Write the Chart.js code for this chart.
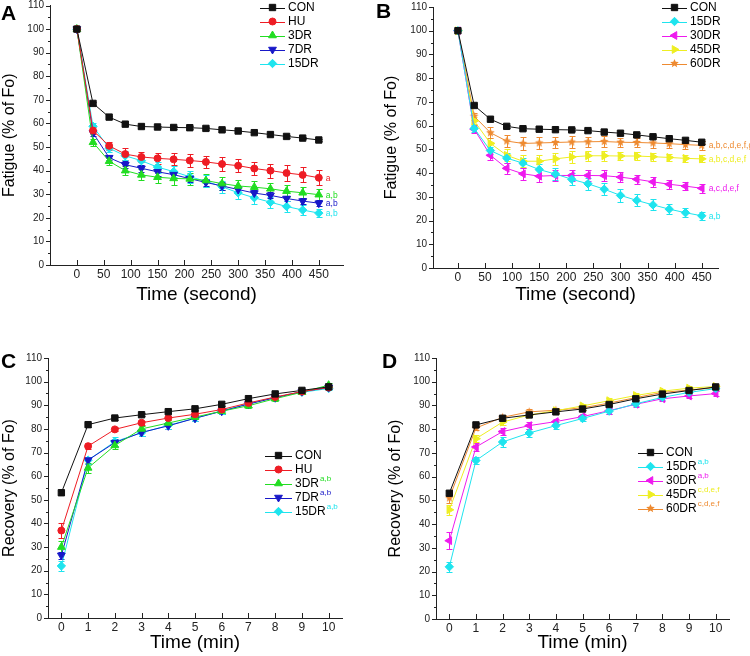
<!DOCTYPE html>
<html>
<head>
<meta charset="utf-8">
<script src="https://cdn.jsdelivr.net/npm/chart.js@4.4.0/dist/chart.umd.min.js"></script>
<style>
  html, body { margin: 0; padding: 0; background: #fff; }
  #wrap { position: relative; width: 750px; height: 656px; overflow: hidden; }
  .p { position: absolute; }
  .lbl { position: absolute; font: bold 21px "Liberation Sans", Arial, sans-serif; line-height: 21px; color: #000; }
</style>
</head>
<body>
<div id="wrap">
  <canvas id="cA" class="p" width="375" height="320" style="left:0;top:0"></canvas>
  <canvas id="cB" class="p" width="375" height="320" style="left:375px;top:0"></canvas>
  <canvas id="cC" class="p" width="375" height="336" style="left:0;top:320px"></canvas>
  <canvas id="cD" class="p" width="375" height="336" style="left:375px;top:320px"></canvas>
  <div class="lbl" style="left:1px;top:2px">A</div>
  <div class="lbl" style="left:376px;top:0px">B</div>
  <div class="lbl" style="left:1px;top:350px">C</div>
  <div class="lbl" style="left:382px;top:350px">D</div>
</div>
<script>
// time points
const tSec = [0, 30, 60, 90, 120, 150, 180, 210, 240, 270, 300, 330, 360, 390, 420, 450];
const tMin = [0, 1, 2, 3, 4, 5, 6, 7, 8, 9, 10];
const secTicks = [0, 50, 100, 150, 200, 250, 300, 350, 400, 450];
const minTicks = [0, 1, 2, 3, 4, 5, 6, 7, 8, 9, 10];

// fatigue (% of Fo)
const fatCON  = [100, 68.5, 62.7, 59.7, 58.7, 58.5, 58.3, 58.2, 57.9, 57.3, 56.8, 56.1, 55.3, 54.5, 53.8, 53.0];
const fatHU   = [100, 57, 50.5, 47, 45.8, 45.2, 44.8, 44.3, 43.7, 42.8, 42.1, 40.9, 40.0, 39.0, 38.2, 37.0];
const fat3DR  = [100, 52, 44, 40, 38.2, 37.2, 36.7, 36.5, 35.8, 34.5, 33.5, 33.0, 32.3, 31.3, 30.6, 29.8];
const fat7DR  = [100, 56, 45.5, 42.5, 41, 39.5, 38.3, 36.6, 35, 33.5, 32, 30.5, 29.5, 28.2, 27.1, 26.2];
const fat15DR = [100, 58.8, 49.5, 46.3, 44.2, 41.5, 39.6, 37.4, 35.5, 33.2, 30.6, 28.5, 26.6, 24.8, 23.3, 22.0];
const fat30DR = [100, 58.5, 47.5, 42, 39.7, 38.7, 39, 39, 39, 38.9, 38.3, 37.4, 36.3, 35.3, 34.5, 33.6];
const fat45DR = [100, 62, 52.5, 47.5, 45, 45, 46, 46.8, 47.3, 47.3, 47.2, 47.2, 46.9, 46.6, 46.2, 46.0];
const fat60DR = [100, 64, 57, 53.5, 52.5, 52.7, 52.9, 53.1, 53.2, 53.3, 53.0, 52.9, 52.7, 52.4, 52.0, 51.7];

const fatErrCON  = [0, 0.6, 0.6, 0.6, 0.6, 0.6, 0.6, 0.6, 0.6, 0.6, 0.6, 0.6, 0.6, 0.6, 0.6, 0.6];
const fatErrHU   = [0, 1.5, 1.8, 2.5, 2.3, 2.3, 2.6, 2.6, 2.6, 2.8, 2.8, 2.8, 3.0, 3.2, 3.2, 3.3];
const fatErr3DR  = [0, 1.5, 1.5, 2, 2.3, 2.5, 2.8, 2.6, 2.6, 2.6, 2.5, 2.4, 2.4, 2.4, 2.4, 2.4];
const fatErr7DR  = [0, 1.2, 1.2, 1.5, 1.5, 1.6, 1.6, 1.6, 1.5, 1.5, 1.3, 1.3, 1.3, 1.2, 1.2, 1.2];
const fatErr15DR = [0, 1.5, 1.5, 2, 2.2, 2.3, 2.5, 2.5, 2.5, 2.6, 2.6, 2.5, 2.3, 2.2, 2.0, 1.8];
const fatErr30DR = [0, 1.5, 1.8, 2.3, 2.6, 2.4, 2.4, 2.4, 2.2, 2.2, 2.0, 2.0, 2.0, 1.8, 1.8, 1.8];
const fatErr45DR = [0, 1.5, 2.2, 2.6, 2.6, 2.7, 2.6, 2.4, 2.2, 2.0, 1.8, 1.6, 1.6, 1.6, 1.6, 1.5];
const fatErr60DR = [0, 1.5, 2.4, 2.6, 2.6, 2.6, 2.5, 2.4, 2.2, 2.2, 2.0, 2.0, 2.0, 1.8, 1.8, 1.8];

// recovery (% of Fo)
const recCON  = [53, 81.8, 84.6, 86, 87.3, 88.5, 90.4, 92.8, 94.8, 96.3, 97.8];
const recHU   = [37, 72.7, 79.8, 82.6, 84.6, 86.2, 88.2, 91, 93.5, 95.8, 97.5];
const rec3DR  = [30, 63.5, 73, 80, 82.5, 85, 87.5, 89.8, 92.8, 95.5, 98.5];
const rec7DR  = [26.5, 66.8, 74.2, 78.5, 81.3, 84.5, 87.5, 90.5, 93.2, 95.8, 97.5];
const rec15DR = [22, 66.8, 74.6, 78.4, 81.5, 84.5, 87.6, 90.7, 93.4, 95.5, 97.1];
const rec30DR = [33, 72.5, 79, 81.5, 83.2, 85.3, 87.8, 90.5, 92.8, 94, 95];
const rec45DR = [46, 76, 83, 86, 87.8, 89.8, 92, 94.2, 96, 97.3, 98];
const rec60DR = [51, 80.5, 85, 87.3, 88, 89, 91, 93.3, 95.5, 96.5, 97.5];

const recErrCON  = [0.8, 0.8, 0.8, 0.6, 0.6, 0.6, 0.6, 0.6, 0.6, 0.6, 0.6];
const recErrHU   = [3.2, 1.2, 0.8, 0.8, 0.8, 0.8, 0.8, 0.8, 0.8, 0.8, 0.8];
const recErr3DR  = [2.5, 2.0, 1.5, 1.2, 1.2, 1.0, 1.0, 1.0, 1.0, 0.8, 0.8];
const recErr7DR  = [1.5, 1.5, 1.5, 1.5, 1.5, 1.2, 1.2, 1.0, 1.0, 0.8, 0.8];
const recErr15DR = [2.0, 1.5, 2.0, 1.5, 1.5, 1.2, 1.2, 1.0, 1.0, 0.8, 0.8];
const recErr30DR = [3.5, 1.5, 1.5, 1.5, 1.2, 1.2, 1.2, 1.0, 1.0, 1.0, 1.0];
const recErr45DR = [2.0, 1.5, 1.2, 1.0, 1.0, 1.0, 1.0, 1.0, 0.8, 0.8, 0.8];
const recErr60DR = [2.0, 1.0, 1.0, 1.0, 1.0, 1.0, 1.0, 0.8, 0.8, 0.8, 0.8];

const colors = {
  CON: '#111111', HU: '#ee1c24', D3: '#22dd22', D7: '#1818c8',
  D15: '#1ee4ee', D30: '#ee1aee', D45: '#eeee22', D60: '#ee8a30'
};

Chart.defaults.font.family = '"Liberation Sans", Arial, sans-serif';
Chart.defaults.color = '#222';

function starImg(color, r) {
  const c = document.createElement('canvas');
  const s = Math.ceil(r * 2) + 2;
  c.width = c.height = s;
  const g = c.getContext('2d');
  g.fillStyle = color;
  g.beginPath();
  for (let k = 0; k < 10; k++) {
    const rr = k % 2 ? r * 0.45 : r;
    const a = -Math.PI / 2 + k * Math.PI / 5;
    g.lineTo(s / 2 + rr * Math.cos(a), s / 2 + rr * Math.sin(a));
  }
  g.closePath();
  g.fill();
  return c;
}

function series(label, xs, ys, err, color, style, radius, extra) {
  return Object.assign({
    label: label,
    data: xs.map((v, i) => ({ x: v, y: ys[i] })),
    err: err,
    borderColor: color,
    backgroundColor: color,
    borderWidth: 1,
    pointStyle: style,
    pointRadius: radius,
    pointHoverRadius: radius,
    pointBorderWidth: 1,
    pointRotation: 0,
    fill: false,
    tension: 0
  }, extra || {});
}

// outward y ticks (with minor ones), inward x ticks
const tickMarks = {
  id: 'tickMarks',
  afterDraw(chart) {
    const { ctx, scales: { x, y }, chartArea: a } = chart;
    ctx.save();
    ctx.strokeStyle = '#222';
    ctx.lineWidth = 1;
    ctx.beginPath();
    for (let v = 0; v <= 110; v += 5) {
      const py = Math.round(y.getPixelForValue(v)) + 0.5;
      const len = v % 10 === 0 ? 4 : 2;
      ctx.moveTo(a.left - len, py);
      ctx.lineTo(a.left, py);
    }
    x.ticks.forEach(t => {
      const px = Math.round(x.getPixelForValue(t.value)) + 0.5;
      ctx.moveTo(px, a.bottom);
      ctx.lineTo(px, a.bottom - 5);
    });
    ctx.stroke();
    ctx.restore();
  }
};

const errBars = {
  id: 'errBars',
  beforeDatasetsDraw(chart) {
    const { ctx, scales: { x, y } } = chart;
    chart.data.datasets.forEach(ds => {
      if (!ds.err) return;
      ctx.save();
      ctx.strokeStyle = ds.borderColor;
      ctx.lineWidth = 1;
      ctx.beginPath();
      ds.data.forEach((p, i) => {
        const e = ds.err[i];
        if (!e) return;
        const px = Math.round(x.getPixelForValue(p.x)) + 0.5;
        const y1 = Math.round(y.getPixelForValue(p.y + e)) + 0.5;
        const y2 = Math.round(y.getPixelForValue(p.y - e)) + 0.5;
        ctx.moveTo(px, y1); ctx.lineTo(px, y2);
        ctx.moveTo(px - 3, y1); ctx.lineTo(px + 3, y1);
        ctx.moveTo(px - 3, y2); ctx.lineTo(px + 3, y2);
      });
      ctx.stroke();
      ctx.restore();
    });
  }
};

// legend with line + marker, superscripts, and end-of-line notes
const panelText = {
  id: 'panelText',
  afterDraw(chart, args, o) {
    const { ctx, scales: { x, y } } = chart;
    const L = o.legend;
    ctx.save();
    chart.data.datasets.forEach((ds, i) => {
      const yy = L.y + i * L.dy;
      ctx.strokeStyle = ds.borderColor;
      ctx.fillStyle = ds.backgroundColor;
      ctx.lineWidth = 1;
      ctx.beginPath();
      ctx.moveTo(L.x, Math.round(yy) + 0.5);
      ctx.lineTo(L.x + L.len, Math.round(yy) + 0.5);
      ctx.stroke();
      Chart.helpers.drawPoint(ctx, {
        pointStyle: ds.pointStyle, rotation: ds.pointRotation, radius: ds.pointRadius, borderWidth: 1
      }, L.x + L.len / 2, yy);
      ctx.font = '12px "Liberation Sans", Arial, sans-serif';
      ctx.fillStyle = '#000';
      ctx.textBaseline = 'middle';
      ctx.textAlign = 'left';
      const tx = L.x + L.len + 3;
      ctx.fillText(ds.label, tx, yy + 0.5);
      if (ds.sup) {
        const w = ctx.measureText(ds.label).width;
        ctx.font = '8px "Liberation Sans", Arial, sans-serif';
        ctx.fillStyle = ds.borderColor;
        ctx.fillText(ds.sup, tx + w + 1, yy - 5);
      }
      if (ds.note) {
        const last = ds.data[ds.data.length - 1];
        ctx.font = '8.5px "Liberation Sans", Arial, sans-serif';
        ctx.fillStyle = ds.borderColor;
        ctx.fillText(ds.note, x.getPixelForValue(last.x) + 7, y.getPixelForValue(last.y) + 0.5);
      }
    });
    ctx.restore();
  }
};

function panel(id, p) {
  new Chart(document.getElementById(id), {
    type: 'line',
    data: { datasets: p.datasets },
    options: {
      responsive: false,
      animation: false,
      devicePixelRatio: 1,
      layout: { padding: p.pad },
      plugins: {
        legend: { display: false },
        tooltip: { enabled: false },
        panelText: { legend: p.legend }
      },
      scales: {
        x: {
          type: 'linear',
          min: p.xMin, max: p.xMax,
          afterBuildTicks: s => { s.ticks = p.xTicks.map(v => ({ value: v })); },
          afterFit: s => { s.height = p.xH; s.paddingLeft = 0; s.paddingRight = 0; },
          grid: { display: false, drawTicks: false },
          border: { display: true, color: '#222', width: 1 },
          ticks: { font: { size: 12 }, padding: 2, maxRotation: 0, autoSkip: false, color: '#222' },
          title: { display: true, text: p.xTitle, color: '#000', font: { size: 19 }, padding: { top: 0, bottom: p.xTitlePad } }
        },
        y: {
          min: 0, max: 110,
          afterFit: s => { s.width = p.yW; s.paddingTop = 0; s.paddingBottom = 0; },
          grid: { display: false, drawTicks: false },
          border: { display: true, color: '#222', width: 1 },
          ticks: { stepSize: 10, font: { size: 10 }, padding: 6, color: '#222' },
          title: { display: true, text: p.yTitle, color: '#000', font: { size: 16 }, padding: { top: p.yTitlePad, bottom: 0 } }
        }
      }
    },
    plugins: [errBars, tickMarks, panelText]
  });
}

const star = starImg(colors.D60, 4.5);

panel('cA', {
  xMin: -50, xMax: 495, xTicks: secTicks,
  pad: { left: 0, top: 4, right: 32, bottom: 0 }, yW: 50, xH: 55,
  xTitle: 'Time (second)', xTitlePad: 13.6, yTitle: 'Fatigue (% of Fo)', yTitlePad: 0,
  legend: { x: 260, y: 7.5, dy: 14, len: 25 },
  datasets: [
    series('CON', tSec, fatCON, fatErrCON, colors.CON, 'rect', 4.5),
    series('HU', tSec, fatHU, fatErrHU, colors.HU, 'circle', 3.5, { note: 'a' }),
    series('3DR', tSec, fat3DR, fatErr3DR, colors.D3, 'triangle', 4.5, { note: 'a,b' }),
    series('7DR', tSec, fat7DR, fatErr7DR, colors.D7, 'triangle', 4.5, { pointRotation: 180, note: 'a,b' }),
    series('15DR', tSec, fat15DR, fatErr15DR, colors.D15, 'rectRot', 4.2, { note: 'a,b' })
  ]
});

panel('cB', {
  xMin: -46, xMax: 480, xTicks: secTicks,
  pad: { left: 0, top: 7, right: 32, bottom: 0 }, yW: 58, xH: 52,
  xTitle: 'Time (second)', xTitlePad: 13.6, yTitle: 'Fatigue (% of Fo)', yTitlePad: 7,
  legend: { x: 287, y: 7.5, dy: 14, len: 25 },
  datasets: [
    series('CON', tSec, fatCON, fatErrCON, colors.CON, 'rect', 4.5),
    series('15DR', tSec, fat15DR, fatErr15DR, colors.D15, 'rectRot', 4.2, { note: 'a,b' }),
    series('30DR', tSec, fat30DR, fatErr30DR, colors.D30, 'triangle', 4.5, { pointRotation: 270, note: 'a,c,d,e,f' }),
    series('45DR', tSec, fat45DR, fatErr45DR, colors.D45, 'triangle', 4.5, { pointRotation: 90, note: 'a,b,c,d,e,f' }),
    series('60DR', tSec, fat60DR, fatErr60DR, colors.D60, star, 4.5, { note: 'a,b,c,d,e,f,g' })
  ]
});

panel('cC', {
  xMin: -0.5, xMax: 10.5, xTicks: minTicks,
  pad: { left: 0, top: 38, right: 33, bottom: 0 }, yW: 48, xH: 38,
  xTitle: 'Time (min)', xTitlePad: 1.6, yTitle: 'Recovery (% of Fo)', yTitlePad: 0,
  legend: { x: 265, y: 135.5, dy: 14, len: 27 },
  datasets: [
    series('CON', tMin, recCON, recErrCON, colors.CON, 'rect', 4.5),
    series('HU', tMin, recHU, recErrHU, colors.HU, 'circle', 3.5),
    series('3DR', tMin, rec3DR, recErr3DR, colors.D3, 'triangle', 4.5, { sup: 'a,b' }),
    series('7DR', tMin, rec7DR, recErr7DR, colors.D7, 'triangle', 4.5, { pointRotation: 180, sup: 'a,b' }),
    series('15DR', tMin, rec15DR, recErr15DR, colors.D15, 'rectRot', 4.2, { sup: 'a,b' })
  ]
});

panel('cD', {
  xMin: -0.5, xMax: 10.5, xTicks: minTicks,
  pad: { left: 0, top: 38, right: 21, bottom: 0 }, yW: 61, xH: 37,
  xTitle: 'Time (min)', xTitlePad: 1.6, yTitle: 'Recovery (% of Fo)', yTitlePad: 11,
  legend: { x: 263, y: 132.5, dy: 14, len: 25 },
  datasets: [
    series('CON', tMin, recCON, recErrCON, colors.CON, 'rect', 4.5),
    series('15DR', tMin, rec15DR, recErr15DR, colors.D15, 'rectRot', 4.2, { sup: 'a,b' }),
    series('30DR', tMin, rec30DR, recErr30DR, colors.D30, 'triangle', 4.5, { pointRotation: 270, sup: 'a,b' }),
    series('45DR', tMin, rec45DR, recErr45DR, colors.D45, 'triangle', 4.5, { pointRotation: 90, sup: 'c,d,e,f' }),
    series('60DR', tMin, rec60DR, recErr60DR, colors.D60, star, 4.5, { sup: 'c,d,e,f' })
  ]
});
</script>
</body>
</html>
